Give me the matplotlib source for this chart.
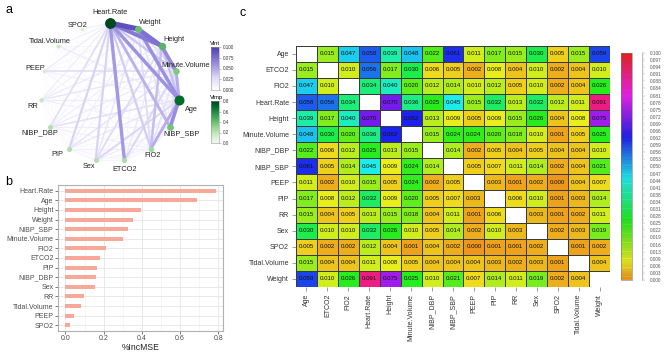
import numpy as np
import matplotlib
matplotlib.use("Agg")
import matplotlib.pyplot as plt
from matplotlib.colors import LinearSegmentedColormap, ListedColormap, Normalize, hsv_to_rgb
from matplotlib.collections import LineCollection
from matplotlib.cm import ScalarMappable

plt.rcParams['font.family'] = ['Liberation Sans', 'DejaVu Sans']

# ---- data -------------------------------------------------------------
variables = ["Age", "ETCO2", "FIO2", "Heart.Rate", "Height", "Minute.Volume",
             "NIBP_DBP", "NIBP_SBP", "PEEP", "PIP", "RR", "Sex", "SPO2",
             "Tidal.Volume", "Weight"]

nan = np.nan
# pairwise interaction strength (Vint), rows/cols in the order of `variables`
vint = [
    [nan, 0.015, 0.047, 0.058, 0.039, 0.048, 0.022, 0.061, 0.011, 0.017, 0.015, 0.030, 0.005, 0.015, 0.059],
    [0.015, nan, 0.010, 0.056, 0.017, 0.030, 0.006, 0.005, 0.002, 0.008, 0.004, 0.010, 0.002, 0.004, 0.010],
    [0.047, 0.010, nan, 0.034, 0.040, 0.020, 0.012, 0.014, 0.010, 0.012, 0.005, 0.010, 0.002, 0.004, 0.026],
    [0.058, 0.056, 0.034, nan, 0.070, 0.036, 0.025, 0.045, 0.015, 0.032, 0.013, 0.032, 0.012, 0.011, 0.091],
    [0.039, 0.017, 0.040, 0.070, nan, 0.062, 0.013, 0.009, 0.005, 0.009, 0.015, 0.026, 0.004, 0.008, 0.075],
    [0.048, 0.030, 0.020, 0.036, 0.062, nan, 0.015, 0.024, 0.024, 0.020, 0.018, 0.010, 0.001, 0.005, 0.025],
    [0.022, 0.006, 0.012, 0.025, 0.013, 0.015, nan, 0.014, 0.002, 0.005, 0.004, 0.005, 0.004, 0.004, 0.010],
    [0.061, 0.005, 0.014, 0.045, 0.009, 0.024, 0.014, nan, 0.005, 0.007, 0.011, 0.014, 0.002, 0.004, 0.021],
    [0.011, 0.002, 0.010, 0.015, 0.005, 0.024, 0.002, 0.005, nan, 0.003, 0.001, 0.002, 0.000, 0.004, 0.007],
    [0.017, 0.008, 0.012, 0.032, 0.009, 0.020, 0.005, 0.007, 0.003, nan, 0.006, 0.010, 0.001, 0.003, 0.014],
    [0.015, 0.004, 0.005, 0.013, 0.015, 0.018, 0.004, 0.011, 0.001, 0.006, nan, 0.003, 0.001, 0.002, 0.011],
    [0.030, 0.010, 0.010, 0.032, 0.026, 0.010, 0.005, 0.014, 0.002, 0.010, 0.003, nan, 0.002, 0.003, 0.019],
    [0.005, 0.002, 0.002, 0.012, 0.004, 0.001, 0.004, 0.002, 0.000, 0.001, 0.001, 0.002, nan, 0.001, 0.002],
    [0.015, 0.004, 0.004, 0.011, 0.008, 0.005, 0.004, 0.004, 0.004, 0.003, 0.002, 0.003, 0.001, nan, 0.004],
    [0.059, 0.010, 0.026, 0.091, 0.075, 0.025, 0.010, 0.021, 0.007, 0.014, 0.011, 0.019, 0.002, 0.004, nan],
]

# variable importance (%IncMSE), smallest first
imp_names = ["SPO2", "PEEP", "Tidal.Volume", "RR", "Sex", "NIBP_DBP", "PIP", "ETCO2",
             "FIO2", "Minute.Volume", "NIBP_SBP", "Weight", "Height", "Age", "Heart.Rate"]
imp_values = [0.026, 0.043, 0.083, 0.098, 0.156, 0.161, 0.164, 0.181,
              0.213, 0.302, 0.330, 0.354, 0.397, 0.689, 0.786]

# clockwise order of the nodes in the network, starting at the top
circle_order = ["Heart.Rate", "Weight", "Height", "Minute.Volume", "Age", "NIBP_SBP",
                "FIO2", "ETCO2", "Sex", "PIP", "NIBP_DBP", "RR", "PEEP",
                "Tidal.Volume", "SPO2"]

# ---- layout helpers ---------------------------------------------------
W, H = 668, 354
fig = plt.figure(figsize=(W / 100, H / 100), dpi=100)
fig.patch.set_facecolor('white')


def px(l, t, r, b):
    return [l / W, 1 - b / H, (r - l) / W, (b - t) / H]


M = np.array(vint, dtype=float)
vimp = dict(zip(imp_names, imp_values))
idx = {v: i for i, v in enumerate(variables)}

vint_cmap = LinearSegmentedColormap.from_list(
    'vint', [(0, '#ffffff'), (0.3, '#dcd7f5'), (0.6, '#998ee0'), (1, '#4d3db3')])
vimp_cmap = plt.get_cmap('Greens')

# ---- panel a: network -------------------------------------------------
ax_a = fig.add_axes(px(0, 0, 240, 178))
ax_a.set_xlim(0, 240)
ax_a.set_ylim(178, 0)
ax_a.axis('off')

cx, cy, R = 110, 92.5, 69.5
n = len(circle_order)
pos = {}
for k, name in enumerate(circle_order):
    ang = 2 * np.pi * k / n
    pos[name] = (cx + R * np.sin(ang), cy - R * np.cos(ang))

edges = []
for i in range(n):
    for j in range(i + 1, n):
        a, b = circle_order[i], circle_order[j]
        edges.append((M[idx[a], idx[b]], a, b))
edges.sort()
segs = [[pos[a], pos[b]] for _, a, b in edges]
vals = np.array([e[0] for e in edges])
lc = LineCollection(segs, colors=vint_cmap(vals / 0.1),
                    linewidths=0.4 + vals / 0.1 * 3.6, capstyle='round', zorder=1)
ax_a.add_collection(lc)

for name in circle_order:
    v = vimp[name]
    ax_a.scatter(*pos[name], s=6 + 75 * v ** 1.3, color=vimp_cmap(0.15 + 0.85 * v / 0.8),
                 zorder=3, linewidths=0)

label_off = {
    "Heart.Rate": (0, -11), "Weight": (12, -7), "Height": (12, -6),
    "Minute.Volume": (10, -6), "Age": (12, 10), "NIBP_SBP": (11, 7),
    "FIO2": (2, 7), "ETCO2": (0, 9), "Sex": (-7, 6), "PIP": (-12, 6),
    "NIBP_DBP": (-10, 6), "RR": (-8, 7), "PEEP": (-9, -3),
    "Tidal.Volume": (-9, -4), "SPO2": (-4, -4),
}
for name in circle_order:
    dx, dy = label_off[name]
    ax_a.text(pos[name][0] + dx, pos[name][1] + dy, name, fontsize=5.3,
              ha='center', va='center', color='#222222')

fig.text(5 / W, 1 - 10 / H, 'a', fontsize=9, ha='left', va='center')

# network legends
cax1 = fig.add_axes(px(211, 47, 219, 90))
cb1 = fig.colorbar(ScalarMappable(Normalize(0, 0.1), vint_cmap), cax=cax1,
                   ticks=[0, 0.025, 0.05, 0.075, 0.1], format='%.3f')
cax2 = fig.add_axes(px(211, 101, 219, 143))
cb2 = fig.colorbar(ScalarMappable(Normalize(0, 0.8),
                                  LinearSegmentedColormap.from_list('g', vimp_cmap(np.linspace(0.05, 1, 64)))),
                   cax=cax2, ticks=[0, 0.2, 0.4, 0.6, 0.8], format='%.1f')
for cb, title in [(cb1, 'Vint'), (cb2, 'Vimp')]:
    cb.outline.set_edgecolor('#999999')
    cb.outline.set_linewidth(0.4)
    cb.ax.tick_params(labelsize=3.3, length=1.5, width=0.4, color='#999999', pad=1.5,
                      labelcolor='#333333')
    cb.ax.set_title(title, fontsize=4.2, loc='left', pad=1.5, x=-0.1)

# ---- panel b: importance bars -----------------------------------------
ax_b = fig.add_axes(px(58, 185, 223, 331))
ypos = np.arange(len(imp_names))
ax_b.barh(ypos, imp_values, height=0.42, color='#F8A898', zorder=2)
ax_b.set_yticks(ypos)
ax_b.set_yticklabels(imp_names)
ax_b.set_xlim(-0.039, 0.825)
ax_b.set_ylim(-0.6, len(imp_names) - 0.4)
ax_b.set_xticks([0, 0.2, 0.4, 0.6, 0.8])
ax_b.set_xticklabels(['0.0', '0.2', '0.4', '0.6', '0.8'])
ax_b.set_xticks([0.1, 0.3, 0.5, 0.7], minor=True)
ax_b.grid(True, which='major', color='#E5E5E5', linewidth=0.6, zorder=0)
ax_b.grid(True, which='minor', axis='x', color='#F0F0F0', linewidth=0.4, zorder=0)
ax_b.set_axisbelow(True)
ax_b.tick_params(which='major', labelsize=5, length=2, width=0.5, color='#444444',
                 labelcolor='#4D4D4D', pad=1.2)
ax_b.tick_params(which='minor', length=0)
for s in ax_b.spines.values():
    s.set_color('#B0B0B0')
    s.set_linewidth(0.8)
ax_b.set_xlabel('%IncMSE', fontsize=6.2, labelpad=0.5, color='#222222')
fig.text(5 / W, 1 - 182 / H, 'b', fontsize=9, ha='left', va='center')

# ---- panel c: heatmap --------------------------------------------------
hues = np.linspace(35 / 360, 1.0, 100)
heat_colors = hsv_to_rgb(np.column_stack([hues, np.full(100, 0.88), np.full(100, 0.93)]))
heat_cmap = ListedColormap(heat_colors)
heat_cmap.set_bad('white')

ax_c = fig.add_axes(px(296, 45.7, 610, 287))
nv = len(variables)
ax_c.pcolormesh(np.arange(nv + 1) - 0.5, np.arange(nv + 1) - 0.5,
                np.ma.masked_invalid(M), cmap=heat_cmap, vmin=0, vmax=0.1,
                edgecolors='#3a3a3a', linewidth=0.4)
ax_c.set_xlim(-0.5, nv - 0.5)
ax_c.set_ylim(nv - 0.5, -0.5)
for i in range(nv):
    for j in range(nv):
        if not np.isnan(M[i, j]):
            ax_c.text(j, i, f'{M[i, j]:.3f}', fontsize=4.4, ha='center', va='center',
                      color='#111111')
ax_c.set_xticks(range(nv))
ax_c.set_xticklabels(variables, rotation=90)
ax_c.set_yticks(range(nv))
ax_c.set_yticklabels(variables)
ax_c.tick_params(labelsize=5, length=3, width=0.4, color='#555555',
                 labelcolor='#333333', pad=2)
for s in ax_c.spines.values():
    s.set_visible(False)
fig.text(240 / W, 1 - 13 / H, 'c', fontsize=9, ha='left', va='center')

# colour key for panel c
cax3 = fig.add_axes(px(621, 53, 632, 280))
cb3 = fig.colorbar(ScalarMappable(Normalize(0, 0.1), heat_cmap), cax=cax3,
                   boundaries=np.linspace(0, 0.1, 101), drawedges=True)
cb3.dividers.set_color('#555555')
cb3.dividers.set_linewidth(0.15)
cb3.outline.set_edgecolor('#777777')
cb3.outline.set_linewidth(0.4)
cb3.set_ticks([])

ax_s = fig.add_axes(px(641, 53, 642, 280))
ax_s.set_ylim(0, 0.1)
ax_s.set_xticks([])
key_ticks = np.linspace(0, 0.1, 33)
ax_s.set_yticks(key_ticks)
ax_s.set_yticklabels([f'{t:.3f}' for t in key_ticks])
ax_s.set_yticks(np.linspace(0, 0.1, 97), minor=True)
ax_s.yaxis.tick_right()
ax_s.tick_params(which='major', labelsize=3.4, length=2, width=0.3, color='#999999',
                 labelcolor='#555555', pad=4)
ax_s.tick_params(which='minor', length=1.3, width=0.3, color='#aaaaaa')
for name, s in ax_s.spines.items():
    s.set_visible(name == 'right')
ax_s.spines['right'].set_color('#aaaaaa')
ax_s.spines['right'].set_linewidth(0.5)
ax_s.patch.set_alpha(0)

fig.savefig('out.png', dpi=100, facecolor='white')
